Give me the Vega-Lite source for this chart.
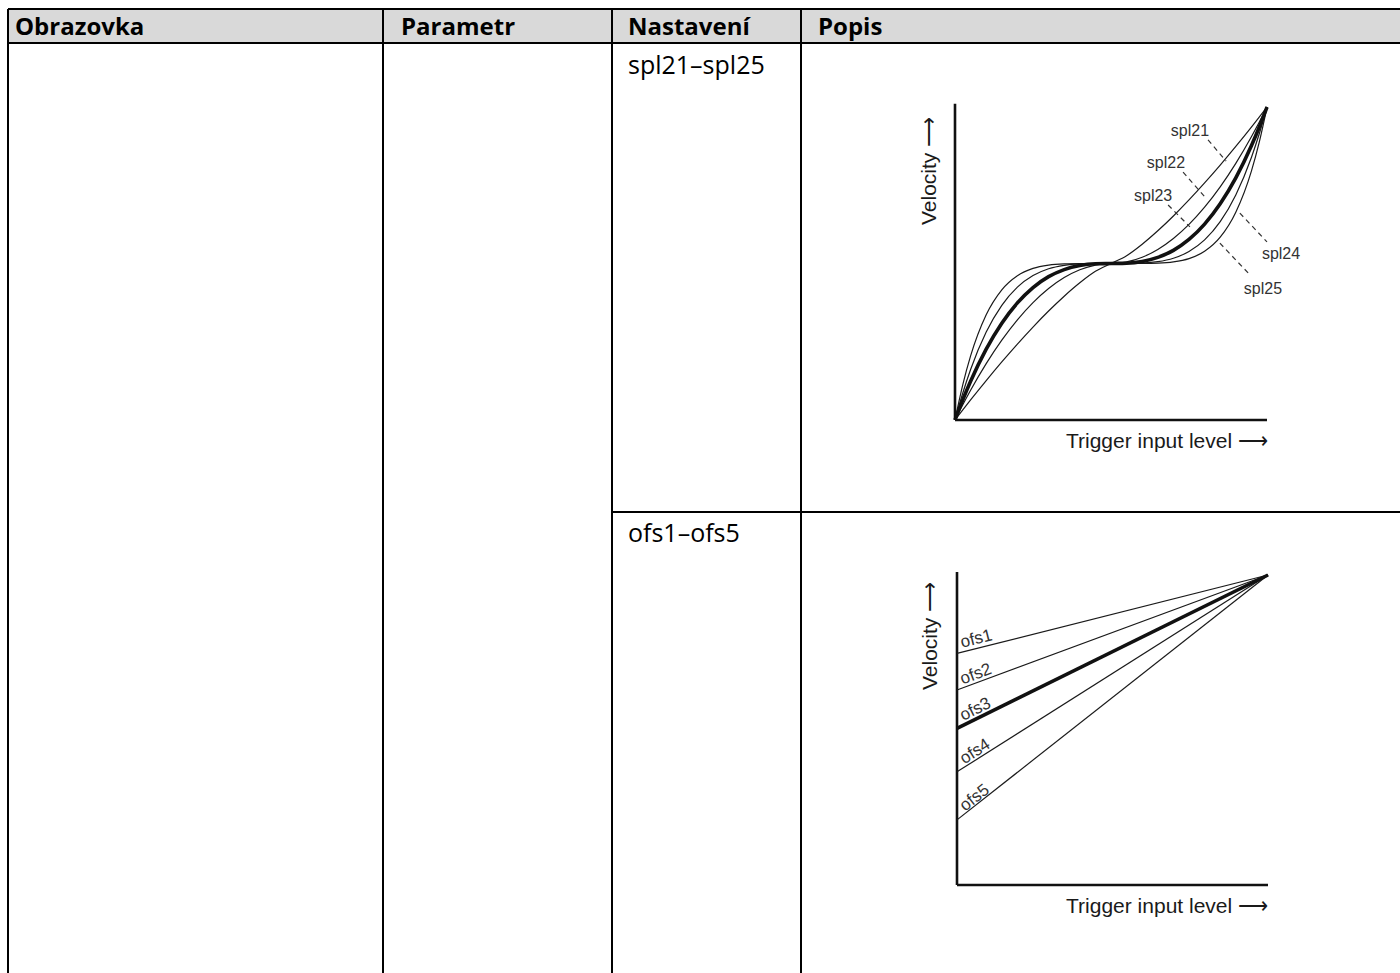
{
  "$schema": "https://vega.github.io/schema/vega-lite/v6.json",
  "width": 1400,
  "height": 973,
  "padding": 0,
  "autosize": {"type": "none"},
  "background": "white",
  "config": {"view": {"stroke": null}},
  "datasets": {
    "grid": [
      {"x1": 8, "y1": 9, "x2": 1400, "y2": 9},
      {"x1": 8, "y1": 43, "x2": 1400, "y2": 43},
      {"x1": 612, "y1": 512, "x2": 1400, "y2": 512},
      {"x1": 8, "y1": 9, "x2": 8, "y2": 973},
      {"x1": 383, "y1": 9, "x2": 383, "y2": 973},
      {"x1": 612, "y1": 9, "x2": 612, "y2": 973},
      {"x1": 801, "y1": 9, "x2": 801, "y2": 973}
    ],
    "header": [{"x1": 8, "y1": 9, "x2": 1400, "y2": 43}],
    "headtext": [
      {"x": 15, "y": 35, "t": "Obrazovka"},
      {"x": 401, "y": 35, "t": "Parametr"},
      {"x": 628, "y": 35, "t": "Nastavení"},
      {"x": 818, "y": 35, "t": "Popis"}
    ],
    "celltext": [
      {"x": 628, "y": 74, "t": "spl21–spl25"},
      {"x": 628, "y": 542, "t": "ofs1–ofs5"}
    ],
    "axes": [
      {"x": 0, "y": 0, "x2": 0, "y2": 1.01},
      {"x": 0, "y": 0, "x2": 1, "y2": 0}
    ],
    "curves": [
      {"c": "spl21", "x": 0, "y": 0}, {"c": "spl21", "x": 0.025, "y": 0.0322}, {"c": "spl21", "x": 0.05, "y": 0.064}, {"c": "spl21", "x": 0.1, "y": 0.1259}, {"c": "spl21", "x": 0.15, "y": 0.1856}, {"c": "spl21", "x": 0.2, "y": 0.2426}, {"c": "spl21", "x": 0.25, "y": 0.297}, {"c": "spl21", "x": 0.3, "y": 0.3481}, {"c": "spl21", "x": 0.35, "y": 0.3955}, {"c": "spl21", "x": 0.4, "y": 0.4383}, {"c": "spl21", "x": 0.45, "y": 0.475}, {"c": "spl21", "x": 0.5, "y": 0.5}, {"c": "spl21", "x": 0.55, "y": 0.525}, {"c": "spl21", "x": 0.6, "y": 0.5617}, {"c": "spl21", "x": 0.65, "y": 0.6045}, {"c": "spl21", "x": 0.7, "y": 0.6519}, {"c": "spl21", "x": 0.75, "y": 0.703}, {"c": "spl21", "x": 0.8, "y": 0.7574}, {"c": "spl21", "x": 0.85, "y": 0.8144}, {"c": "spl21", "x": 0.9, "y": 0.8741}, {"c": "spl21", "x": 0.95, "y": 0.936}, {"c": "spl21", "x": 0.975, "y": 0.9678}, {"c": "spl21", "x": 1, "y": 1},
      {"c": "spl22", "x": 0, "y": 0}, {"c": "spl22", "x": 0.025, "y": 0.0488}, {"c": "spl22", "x": 0.05, "y": 0.095}, {"c": "spl22", "x": 0.1, "y": 0.18}, {"c": "spl22", "x": 0.15, "y": 0.255}, {"c": "spl22", "x": 0.2, "y": 0.32}, {"c": "spl22", "x": 0.25, "y": 0.375}, {"c": "spl22", "x": 0.3, "y": 0.42}, {"c": "spl22", "x": 0.35, "y": 0.455}, {"c": "spl22", "x": 0.4, "y": 0.48}, {"c": "spl22", "x": 0.45, "y": 0.495}, {"c": "spl22", "x": 0.5, "y": 0.5}, {"c": "spl22", "x": 0.55, "y": 0.505}, {"c": "spl22", "x": 0.6, "y": 0.52}, {"c": "spl22", "x": 0.65, "y": 0.545}, {"c": "spl22", "x": 0.7, "y": 0.58}, {"c": "spl22", "x": 0.75, "y": 0.625}, {"c": "spl22", "x": 0.8, "y": 0.68}, {"c": "spl22", "x": 0.85, "y": 0.745}, {"c": "spl22", "x": 0.9, "y": 0.82}, {"c": "spl22", "x": 0.95, "y": 0.905}, {"c": "spl22", "x": 0.975, "y": 0.9512}, {"c": "spl22", "x": 1, "y": 1},
      {"c": "spl23", "x": 0, "y": 0}, {"c": "spl23", "x": 0.025, "y": 0.0647}, {"c": "spl23", "x": 0.05, "y": 0.1238}, {"c": "spl23", "x": 0.1, "y": 0.2263}, {"c": "spl23", "x": 0.15, "y": 0.3092}, {"c": "spl23", "x": 0.2, "y": 0.3741}, {"c": "spl23", "x": 0.25, "y": 0.4231}, {"c": "spl23", "x": 0.3, "y": 0.4579}, {"c": "spl23", "x": 0.35, "y": 0.4806}, {"c": "spl23", "x": 0.4, "y": 0.4935}, {"c": "spl23", "x": 0.45, "y": 0.499}, {"c": "spl23", "x": 0.5, "y": 0.5}, {"c": "spl23", "x": 0.55, "y": 0.501}, {"c": "spl23", "x": 0.6, "y": 0.5065}, {"c": "spl23", "x": 0.65, "y": 0.5194}, {"c": "spl23", "x": 0.7, "y": 0.5421}, {"c": "spl23", "x": 0.75, "y": 0.5769}, {"c": "spl23", "x": 0.8, "y": 0.6259}, {"c": "spl23", "x": 0.85, "y": 0.6908}, {"c": "spl23", "x": 0.9, "y": 0.7737}, {"c": "spl23", "x": 0.95, "y": 0.8762}, {"c": "spl23", "x": 0.975, "y": 0.9353}, {"c": "spl23", "x": 1, "y": 1},
      {"c": "spl24", "x": 0, "y": 0}, {"c": "spl24", "x": 0.025, "y": 0.0864}, {"c": "spl24", "x": 0.05, "y": 0.1614}, {"c": "spl24", "x": 0.1, "y": 0.281}, {"c": "spl24", "x": 0.15, "y": 0.3664}, {"c": "spl24", "x": 0.2, "y": 0.4245}, {"c": "spl24", "x": 0.25, "y": 0.4615}, {"c": "spl24", "x": 0.3, "y": 0.4832}, {"c": "spl24", "x": 0.35, "y": 0.4942}, {"c": "spl24", "x": 0.4, "y": 0.4987}, {"c": "spl24", "x": 0.45, "y": 0.4999}, {"c": "spl24", "x": 0.5, "y": 0.5}, {"c": "spl24", "x": 0.55, "y": 0.5001}, {"c": "spl24", "x": 0.6, "y": 0.5013}, {"c": "spl24", "x": 0.65, "y": 0.5058}, {"c": "spl24", "x": 0.7, "y": 0.5168}, {"c": "spl24", "x": 0.75, "y": 0.5385}, {"c": "spl24", "x": 0.8, "y": 0.5755}, {"c": "spl24", "x": 0.85, "y": 0.6336}, {"c": "spl24", "x": 0.9, "y": 0.719}, {"c": "spl24", "x": 0.95, "y": 0.8386}, {"c": "spl24", "x": 0.975, "y": 0.9136}, {"c": "spl24", "x": 1, "y": 1},
      {"c": "spl25", "x": 0, "y": 0}, {"c": "spl25", "x": 0.025, "y": 0.1131}, {"c": "spl25", "x": 0.05, "y": 0.2048}, {"c": "spl25", "x": 0.1, "y": 0.3362}, {"c": "spl25", "x": 0.15, "y": 0.416}, {"c": "spl25", "x": 0.2, "y": 0.4611}, {"c": "spl25", "x": 0.25, "y": 0.4844}, {"c": "spl25", "x": 0.3, "y": 0.4949}, {"c": "spl25", "x": 0.35, "y": 0.4988}, {"c": "spl25", "x": 0.4, "y": 0.4998}, {"c": "spl25", "x": 0.45, "y": 0.5}, {"c": "spl25", "x": 0.5, "y": 0.5}, {"c": "spl25", "x": 0.55, "y": 0.5}, {"c": "spl25", "x": 0.6, "y": 0.5002}, {"c": "spl25", "x": 0.65, "y": 0.5012}, {"c": "spl25", "x": 0.7, "y": 0.5051}, {"c": "spl25", "x": 0.75, "y": 0.5156}, {"c": "spl25", "x": 0.8, "y": 0.5389}, {"c": "spl25", "x": 0.85, "y": 0.584}, {"c": "spl25", "x": 0.9, "y": 0.6638}, {"c": "spl25", "x": 0.95, "y": 0.7952}, {"c": "spl25", "x": 0.975, "y": 0.8869}, {"c": "spl25", "x": 1, "y": 1}
    ],
    "leaders": [
      {"c": "spl21", "x": 0.811, "y": 0.895, "x2": 0.869, "y2": 0.827},
      {"c": "spl22", "x": 0.731, "y": 0.792, "x2": 0.804, "y2": 0.709},
      {"c": "spl23", "x": 0.683, "y": 0.687, "x2": 0.753, "y2": 0.617},
      {"c": "spl24", "x": 0.913, "y": 0.661, "x2": 1.0, "y2": 0.569},
      {"c": "spl25", "x": 0.849, "y": 0.565, "x2": 0.946, "y2": 0.463}
    ],
    "spllabels": [
      {"c": "spl21", "x": 0.753, "y": 0.923},
      {"c": "spl22", "x": 0.676, "y": 0.821},
      {"c": "spl23", "x": 0.635, "y": 0.716},
      {"c": "spl24", "x": 1.045, "y": 0.53},
      {"c": "spl25", "x": 0.987, "y": 0.419}
    ],
    "titles": [
      {"t": "Trigger input level ⟶", "x": 1.003, "y": -0.089, "a": 0},
      {"t": "Velocity ⟶", "x": -0.061, "y": 0.623, "a": 270}
    ],
    "ofslines": [
      {"c": "ofs1", "x": 0, "y": 0.747}, {"c": "ofs1", "x": 1, "y": 1},
      {"c": "ofs2", "x": 0, "y": 0.629}, {"c": "ofs2", "x": 1, "y": 1},
      {"c": "ofs3", "x": 0, "y": 0.505}, {"c": "ofs3", "x": 1, "y": 1},
      {"c": "ofs4", "x": 0, "y": 0.365}, {"c": "ofs4", "x": 1, "y": 1},
      {"c": "ofs5", "x": 0, "y": 0.21}, {"c": "ofs5", "x": 1, "y": 1}
    ],
    "ofslabels": [
      {"c": "ofs1", "x": 0.016, "y": 0.765},
      {"c": "ofs2", "x": 0.018, "y": 0.647},
      {"c": "ofs3", "x": 0.02, "y": 0.529},
      {"c": "ofs4", "x": 0.023, "y": 0.389},
      {"c": "ofs5", "x": 0.026, "y": 0.236}
    ],
    "titles2": [
      {"t": "Trigger input level ⟶", "x": 1.0, "y": -0.09, "a": 0},
      {"t": "Velocity ⟶", "x": -0.064, "y": 0.629, "a": 270}
    ]
  },
  "resolve": {"scale": {"x": "independent", "y": "independent"}},
  "layer": [
    {
      "layer": [
        {
          "data": {"name": "header"},
          "mark": {"type": "rect", "fill": "#d9d9d9"},
          "encoding": {
            "x": {"field": "x1", "type": "quantitative", "scale": {"domain": [0, 1400], "range": [0, 1400], "nice": false, "zero": false}, "axis": null},
            "x2": {"field": "x2"},
            "y": {"field": "y1", "type": "quantitative", "scale": {"domain": [0, 973], "range": [0, 973], "nice": false, "zero": false}, "axis": null},
            "y2": {"field": "y2"}
          }
        },
        {
          "data": {"name": "grid"},
          "mark": {"type": "rule", "stroke": "#000000", "strokeWidth": 2},
          "encoding": {
            "x": {"field": "x1", "type": "quantitative", "axis": null},
            "x2": {"field": "x2"},
            "y": {"field": "y1", "type": "quantitative", "axis": null},
            "y2": {"field": "y2"}
          }
        },
        {
          "data": {"name": "headtext"},
          "mark": {"type": "text", "font": "Open Sans", "fontWeight": "bold", "fontSize": 24, "align": "left", "baseline": "alphabetic", "fill": "#000000"},
          "encoding": {
            "x": {"field": "x", "type": "quantitative", "axis": null},
            "y": {"field": "y", "type": "quantitative", "axis": null},
            "text": {"field": "t"}
          }
        },
        {
          "data": {"name": "celltext"},
          "mark": {"type": "text", "font": "Open Sans", "fontSize": 25, "align": "left", "baseline": "alphabetic", "fill": "#000000"},
          "encoding": {
            "x": {"field": "x", "type": "quantitative", "axis": null},
            "y": {"field": "y", "type": "quantitative", "axis": null},
            "text": {"field": "t"}
          }
        }
      ]
    },
    {
      "layer": [
        {
          "data": {"name": "axes"},
          "mark": {"type": "rule", "stroke": "#111111", "strokeWidth": 2.6},
          "encoding": {
            "x": {"field": "x", "type": "quantitative", "scale": {"domain": [0, 1], "range": [955, 1267], "nice": false}, "axis": null},
            "x2": {"field": "x2"},
            "y": {"field": "y", "type": "quantitative", "scale": {"domain": [0, 1], "range": [420, 107], "nice": false}, "axis": null},
            "y2": {"field": "y2"}
          }
        },
        {
          "data": {"name": "curves"},
          "transform": [{"filter": "datum.c !== 'spl23'"}],
          "mark": {"type": "line", "interpolate": "monotone", "stroke": "#1a1a1a", "strokeWidth": 1.2},
          "encoding": {
            "x": {"field": "x", "type": "quantitative", "axis": null},
            "y": {"field": "y", "type": "quantitative", "axis": null},
            "detail": {"field": "c"}
          }
        },
        {
          "data": {"name": "curves"},
          "transform": [{"filter": "datum.c === 'spl23'"}],
          "mark": {"type": "line", "interpolate": "monotone", "stroke": "#111111", "strokeWidth": 3.6},
          "encoding": {
            "x": {"field": "x", "type": "quantitative", "axis": null},
            "y": {"field": "y", "type": "quantitative", "axis": null},
            "detail": {"field": "c"}
          }
        },
        {
          "data": {"name": "leaders"},
          "mark": {"type": "rule", "stroke": "#333333", "strokeWidth": 1.2, "strokeDash": [5, 4]},
          "encoding": {
            "x": {"field": "x", "type": "quantitative", "axis": null},
            "x2": {"field": "x2"},
            "y": {"field": "y", "type": "quantitative", "axis": null},
            "y2": {"field": "y2"}
          }
        },
        {
          "data": {"name": "spllabels"},
          "mark": {"type": "text", "font": "Liberation Sans", "fontSize": 16, "fill": "#333333", "align": "center", "baseline": "middle"},
          "encoding": {
            "x": {"field": "x", "type": "quantitative", "axis": null},
            "y": {"field": "y", "type": "quantitative", "axis": null},
            "text": {"field": "c"}
          }
        },
        {
          "data": {"name": "titles"},
          "transform": [{"filter": "datum.a === 0"}],
          "mark": {"type": "text", "font": "Liberation Sans", "fontSize": 21, "fill": "#1a1a1a", "baseline": "alphabetic", "align": "right"},
          "encoding": {
            "x": {"field": "x", "type": "quantitative", "axis": null},
            "y": {"field": "y", "type": "quantitative", "axis": null},
            "text": {"field": "t"}
          }
        },
        {
          "data": {"name": "titles"},
          "transform": [{"filter": "datum.a === 270"}],
          "mark": {"type": "text", "font": "Liberation Sans", "fontSize": 21, "fill": "#1a1a1a", "baseline": "alphabetic", "align": "left", "angle": 270},
          "encoding": {
            "x": {"field": "x", "type": "quantitative", "axis": null},
            "y": {"field": "y", "type": "quantitative", "axis": null},
            "text": {"field": "t"}
          }
        }
      ]
    },
    {
      "layer": [
        {
          "data": {"name": "axes"},
          "mark": {"type": "rule", "stroke": "#111111", "strokeWidth": 2.6},
          "encoding": {
            "x": {"field": "x", "type": "quantitative", "scale": {"domain": [0, 1], "range": [957, 1268], "nice": false}, "axis": null},
            "x2": {"field": "x2"},
            "y": {"field": "y", "type": "quantitative", "scale": {"domain": [0, 1], "range": [885, 575], "nice": false}, "axis": null},
            "y2": {"field": "y2"}
          }
        },
        {
          "data": {"name": "ofslines"},
          "transform": [{"filter": "datum.c !== 'ofs3'"}],
          "mark": {"type": "line", "stroke": "#1a1a1a", "strokeWidth": 1.2},
          "encoding": {
            "x": {"field": "x", "type": "quantitative", "axis": null},
            "y": {"field": "y", "type": "quantitative", "axis": null},
            "detail": {"field": "c"}
          }
        },
        {
          "data": {"name": "ofslines"},
          "transform": [{"filter": "datum.c === 'ofs3'"}],
          "mark": {"type": "line", "stroke": "#111111", "strokeWidth": 3.6},
          "encoding": {
            "x": {"field": "x", "type": "quantitative", "axis": null},
            "y": {"field": "y", "type": "quantitative", "axis": null},
            "detail": {"field": "c"}
          }
        },
        {
          "data": {"name": "ofslabels"},
          "mark": {"type": "text", "font": "Liberation Sans", "fontSize": 17, "fill": "#333333", "align": "left", "baseline": "alphabetic"},
          "encoding": {
            "x": {"field": "x", "type": "quantitative", "axis": null},
            "y": {"field": "y", "type": "quantitative", "axis": null},
            "text": {"field": "c"},
            "angle": {
              "condition": [
                {"test": "datum.c === 'ofs1'", "value": 345.8},
                {"test": "datum.c === 'ofs2'", "value": 339.7},
                {"test": "datum.c === 'ofs3'", "value": 333.7},
                {"test": "datum.c === 'ofs4'", "value": 327.7}
              ],
              "value": 321.8
            }
          }
        },
        {
          "data": {"name": "titles2"},
          "transform": [{"filter": "datum.a === 0"}],
          "mark": {"type": "text", "font": "Liberation Sans", "fontSize": 21, "fill": "#1a1a1a", "baseline": "alphabetic", "align": "right"},
          "encoding": {
            "x": {"field": "x", "type": "quantitative", "axis": null},
            "y": {"field": "y", "type": "quantitative", "axis": null},
            "text": {"field": "t"}
          }
        },
        {
          "data": {"name": "titles2"},
          "transform": [{"filter": "datum.a === 270"}],
          "mark": {"type": "text", "font": "Liberation Sans", "fontSize": 21, "fill": "#1a1a1a", "baseline": "alphabetic", "align": "left", "angle": 270},
          "encoding": {
            "x": {"field": "x", "type": "quantitative", "axis": null},
            "y": {"field": "y", "type": "quantitative", "axis": null},
            "text": {"field": "t"}
          }
        }
      ]
    }
  ]
}
